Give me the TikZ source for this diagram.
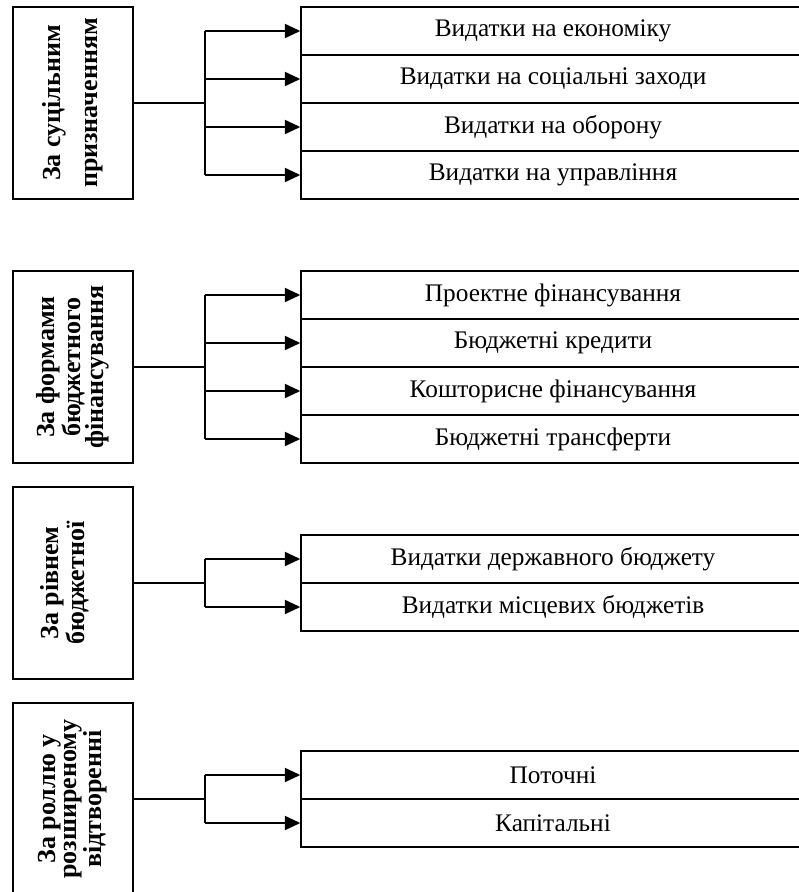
\documentclass[tikz,border=0pt]{standalone}
\usepackage{fontspec}
\setmainfont{Liberation Serif}
\usetikzlibrary{arrows.meta}
\begin{document}
\begin{tikzpicture}[x=0.025cm,y=-0.025cm,
  groupbox/.style={draw,line width=0.9pt,minimum width=3cm,minimum height=4.8cm,inner sep=0pt},
  grouplabel/.style={rotate=90,align=center,inner sep=0pt,font=\fontsize{18.5}{15}\selectfont\bfseries},
  itembox/.style={draw,line width=0.9pt,minimum width=12.6cm,minimum height=1.2cm,inner sep=0pt,font=\fontsize{18}{21}\selectfont},
  trunk/.style={line width=0.9pt},
  bus/.style={line width=1.3pt},
  feed/.style={line width=1.3pt,-{Triangle[length=11pt,width=10pt]}}]%
% picture drawn in pixel units of the page
\useasboundingbox (0,0) rectangle (798,892);
\def\busx{205}
%
\node[groupbox] (purpose) at (73,103) {};
\node[grouplabel,font=\fontsize{18.5}{26}\selectfont\bfseries] (purposetext) at (purpose.center) {За суцільним\\призначенням};
\node[itembox] (econ) at (553,31) {Видатки на економіку};
\node[itembox] (social) at (553,79) {Видатки на соціальні заходи};
\node[itembox] (defence) at (553,127) {Видатки на оборону};
\node[itembox] (admin) at (553,175) {Видатки на управління};
\coordinate (busA) at (\busx,103);
\draw[trunk] (purpose.east) -- (busA);
\draw[bus] (busA |- econ.west) -- (busA |- admin.west);
\draw[feed] (busA |- econ.west) -- (econ.west);
\draw[feed] (busA |- social.west) -- (social.west);
\draw[feed] (busA |- defence.west) -- (defence.west);
\draw[feed] (busA |- admin.west) -- (admin.west);
%
\node[groupbox] (forms) at (73,367) {};
\node[grouplabel] (formstext) at (forms.center) {За формами\\бюджетного\\фінансування};
\node[itembox] (project) at (553,295) {Проектне фінансування};
\node[itembox] (credits) at (553,343) {Бюджетні кредити};
\node[itembox] (estimate) at (553,391) {Кошторисне фінансування};
\node[itembox] (transfers) at (553,439) {Бюджетні трансферти};
\coordinate (busB) at (\busx,367);
\draw[trunk] (forms.east) -- (busB);
\draw[bus] (busB |- project.west) -- (busB |- transfers.west);
\draw[feed] (busB |- project.west) -- (project.west);
\draw[feed] (busB |- credits.west) -- (credits.west);
\draw[feed] (busB |- estimate.west) -- (estimate.west);
\draw[feed] (busB |- transfers.west) -- (transfers.west);
%
\node[groupbox] (level) at (73,583) {};
\node[grouplabel] (leveltext) at (level.center) {За рівнем\\бюджетної\\\mbox{}};
\node[itembox] (state) at (553,559) {Видатки державного бюджету};
\node[itembox] (local) at (553,607) {Видатки місцевих бюджетів};
\coordinate (busC) at (\busx,583);
\draw[trunk] (level.east) -- (busC);
\draw[bus] (busC |- state.west) -- (busC |- local.west);
\draw[feed] (busC |- state.west) -- (state.west);
\draw[feed] (busC |- local.west) -- (local.west);
%
\node[groupbox] (role) at (73,799) {};
\node[grouplabel] (roletext) at (role.center) {За роллю у\\розширеному\\відтворенні};
\node[itembox] (current) at (553,775) {Поточні};
\node[itembox] (capital) at (553,823) {Капітальні};
\coordinate (busD) at (\busx,799);
\draw[trunk] (role.east) -- (busD);
\draw[bus] (busD |- current.west) -- (busD |- capital.west);
\draw[feed] (busD |- current.west) -- (current.west);
\draw[feed] (busD |- capital.west) -- (capital.west);
\end{tikzpicture}
\end{document}
